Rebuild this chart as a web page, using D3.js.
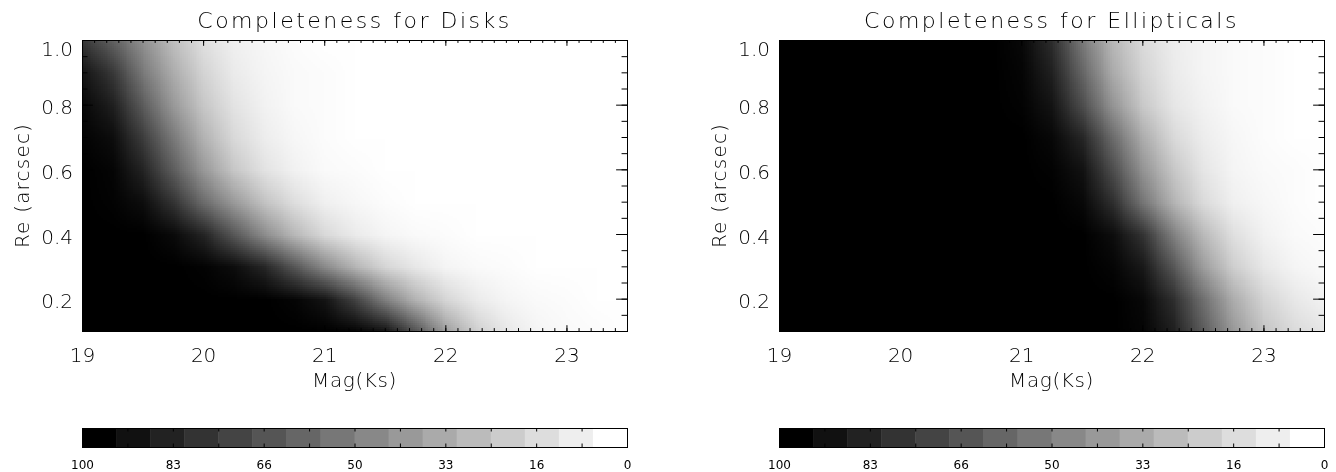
<!DOCTYPE html>
<html><head><meta charset="utf-8">
<script src="https://cdn.jsdelivr.net/npm/d3@7"></script>
<style>
html,body{margin:0;padding:0;background:#fff;}
svg{display:block;will-change:transform;}
text{font-family:"DejaVu Sans",sans-serif;font-weight:200;fill:#000;}
</style></head><body>
<svg id="chart" width="1336" height="472"></svg>
<script>
// ---- data ----
const mags = [19, 19.25, 19.5, 19.75, 20, 20.25, 20.5, 20.75, 21, 21.25, 21.5, 21.75, 22, 22.25, 22.5, 22.75, 23, 23.25, 23.5];
const reValues = [1.0, 0.9, 0.8, 0.7, 0.6, 0.5, 0.4, 0.3, 0.2, 0.1];

// completeness (%) per Re row (top to bottom) and magnitude column
const diskCompleteness = [
  [78, 62, 43, 25, 12, 6, 3, 1, 0, 0, 0, 0, 0, 0, 0, 0, 0, 0, 0],
  [92, 78, 52, 32, 17, 8, 4, 2, 1, 0, 0, 0, 0, 0, 0, 0, 0, 0, 0],
  [97, 88, 64, 40, 22, 11, 5, 2, 1, 0, 0, 0, 0, 0, 0, 0, 0, 0, 0],
  [99, 95, 76, 52, 30, 15, 7, 3, 1, 0, 0, 0, 0, 0, 0, 0, 0, 0, 0],
  [100, 98, 86, 63, 40, 22, 11, 5, 2, 1, 0, 0, 0, 0, 0, 0, 0, 0, 0],
  [100, 99, 95, 80, 58, 40, 24, 13, 6, 3, 1, 0, 0, 0, 0, 0, 0, 0, 0],
  [100, 100, 100, 96, 86, 66, 45, 28, 15, 8, 4, 2, 1, 0, 0, 0, 0, 0, 0],
  [100, 100, 100, 100, 99, 95, 85, 66, 46, 29, 16, 9, 4, 2, 1, 0, 0, 0, 0],
  [100, 100, 100, 100, 100, 100, 100, 98, 92, 74, 50, 30, 16, 8, 4, 2, 1, 0, 0],
  [100, 100, 100, 100, 100, 100, 100, 100, 100, 99, 93, 68, 38, 19, 9, 4, 2, 1, 0]
];
const ellipticalCompleteness = [
  [100, 100, 100, 100, 100, 100, 100, 100, 97, 82, 52, 28, 14, 7, 4, 2, 1, 0, 0],
  [100, 100, 100, 100, 100, 100, 100, 100, 98, 87, 60, 33, 17, 8, 4, 2, 1, 0, 0],
  [100, 100, 100, 100, 100, 100, 100, 100, 99, 92, 70, 42, 21, 10, 5, 2, 1, 0, 0],
  [100, 100, 100, 100, 100, 100, 100, 100, 100, 97, 85, 58, 32, 15, 7, 3, 1, 0, 0],
  [100, 100, 100, 100, 100, 100, 100, 100, 100, 99, 93, 70, 42, 22, 10, 4, 2, 1, 0],
  [100, 100, 100, 100, 100, 100, 100, 100, 100, 100, 97, 82, 54, 30, 14, 6, 3, 1, 0],
  [100, 100, 100, 100, 100, 100, 100, 100, 100, 100, 100, 95, 80, 50, 27, 12, 5, 2, 1],
  [100, 100, 100, 100, 100, 100, 100, 100, 100, 100, 100, 98, 90, 66, 38, 19, 9, 4, 2],
  [100, 100, 100, 100, 100, 100, 100, 100, 100, 100, 100, 100, 97, 82, 56, 32, 17, 9, 5],
  [100, 100, 100, 100, 100, 100, 100, 100, 100, 100, 100, 100, 98, 88, 64, 40, 23, 14, 10]
];

const titles = ["Completeness for Disks", "Completeness for Ellipticals"];
const xTickValues = [19, 20, 21, 22, 23];
const yTickValues = [0.2, 0.4, 0.6, 0.8, 1.0];
const xLabel = "Mag(Ks)";
const yLabel = "Re (arcsec)";
const colorbarGrays = [0, 17, 34, 51, 68, 85, 102, 119, 136, 153, 170, 187, 204, 221, 238, 255];
const colorbarTickValues = [100, 83.33, 66.67, 50, 33.33, 16.67, 0];
const colorbarLabels = ["100", "83", "66", "50", "33", "16", "0"];

// ---- layout ----
const svg = d3.select("#chart");
const W = 545, plotTop = 40, plotBottom = 331;
const lefts = [82, 779];
const cbTop = 428, cbH = 19;
const grids = [diskCompleteness, ellipticalCompleteness];
const gray = d3.scaleLinear().domain([0, 100]).range([255, 0]);

lefts.forEach((left, i) => {
  const x = d3.scaleLinear().domain([19, 23.5]).range([left, left + W]);
  const y = d3.scaleLinear().domain([0.1, 1.0]).range([plotBottom, plotTop]);
  const g = svg.append("g");

  const clipId = "clip" + i;
  svg.append("clipPath").attr("id", clipId).append("rect")
    .attr("x", x(19)).attr("y", y(1.0)).attr("width", x(23.5) - x(19)).attr("height", y(0.1) - y(1.0));

  const grid = grids[i];
  const cols = mags.length, rows = reValues.length;
  const canvas = document.createElement("canvas");
  canvas.width = cols; canvas.height = rows;
  const ctx = canvas.getContext("2d");
  const img = ctx.createImageData(cols, rows);
  grid.forEach((row, r) => row.forEach((v, c) => {
    const k = (r * cols + c) * 4;
    const gv = Math.round(gray(v));
    img.data[k] = img.data[k + 1] = img.data[k + 2] = gv;
    img.data[k + 3] = 255;
  }));
  ctx.putImageData(img, 0, 0);
  const dm = mags[1] - mags[0], dr = reValues[0] - reValues[1];
  const x0 = x(mags[0] - dm / 2), x1 = x(mags[cols - 1] + dm / 2);
  const y0 = y(reValues[0] + dr / 2), y1 = y(reValues[rows - 1] - dr / 2);
  g.append("g").attr("clip-path", `url(#${clipId})`)
    .append("image")
    .attr("href", canvas.toDataURL())
    .attr("preserveAspectRatio", "none")
    .attr("x", x0).attr("y", y0).attr("width", x1 - x0).attr("height", y1 - y0)
    .style("image-rendering", "auto");

  const xMajLen = 0.02 * (plotBottom - plotTop), yMajLen = 0.02 * W;
  const xMinor = d3.range(190, 235.5, 1).map(v => v / 10);
  const yMinor = d3.range(2, 20.5, 1).map(v => v / 20);

  function styleAxis(sel) {
    sel.select(".domain").remove();
    sel.selectAll("line").attr("stroke", "#000");
    sel.selectAll("text").style("font-size", "20px");
  }
  g.append("g").attr("transform", `translate(0,${plotBottom})`)
    .call(d3.axisBottom(x).tickValues(xTickValues).tickFormat(d3.format("d")).tickSize(-xMajLen).tickPadding(17))
    .call(styleAxis);
  g.append("g").attr("transform", `translate(0,${plotBottom})`)
    .call(d3.axisBottom(x).tickValues(xMinor).tickFormat("").tickSize(-xMajLen / 2))
    .call(styleAxis);
  g.append("g").attr("transform", `translate(0,${plotTop})`)
    .call(d3.axisTop(x).tickValues(xTickValues).tickFormat("").tickSize(-xMajLen))
    .call(styleAxis);
  g.append("g").attr("transform", `translate(0,${plotTop})`)
    .call(d3.axisTop(x).tickValues(xMinor).tickFormat("").tickSize(-xMajLen / 2))
    .call(styleAxis);
  g.append("g").attr("transform", `translate(${left},0)`)
    .call(d3.axisLeft(y).tickValues(yTickValues).tickFormat(d3.format(".1f")).tickSize(-yMajLen).tickPadding(9))
    .call(styleAxis)
    .call(s => s.selectAll("text").attr("y", d => Math.max(2, plotTop + 8 - y(d))).attr("dy", "0.36em"));
  g.append("g").attr("transform", `translate(${left},0)`)
    .call(d3.axisLeft(y).tickValues(yMinor).tickFormat("").tickSize(-yMajLen / 2))
    .call(styleAxis);
  g.append("g").attr("transform", `translate(${left + W},0)`)
    .call(d3.axisRight(y).tickValues(yTickValues).tickFormat("").tickSize(-yMajLen))
    .call(styleAxis);
  g.append("g").attr("transform", `translate(${left + W},0)`)
    .call(d3.axisRight(y).tickValues(yMinor).tickFormat("").tickSize(-yMajLen / 2))
    .call(styleAxis);

  g.append("rect").attr("x", left + 0.5).attr("y", plotTop + 0.5)
    .attr("width", W).attr("height", plotBottom - plotTop)
    .attr("fill", "none").attr("stroke", "#000").attr("stroke-width", 1);

  g.append("text").attr("x", left + W / 2).attr("y", 28)
    .attr("text-anchor", "middle").style("font-size", "22px").style("letter-spacing", "2.5px")
    .text(titles[i]);
  g.append("text").attr("x", left + W / 2).attr("y", 387)
    .attr("text-anchor", "middle").style("font-size", "20px").style("letter-spacing", "0.6px")
    .text(xLabel);
  g.append("text").attr("transform", `translate(${left - 53},${(plotTop + plotBottom) / 2}) rotate(-90)`)
    .attr("text-anchor", "middle").style("font-size", "20px").style("letter-spacing", "1.2px")
    .text(yLabel);

  const cb = d3.scaleLinear().domain([100, 0]).range([left, left + W]);
  const step = 100 / colorbarGrays.length;
  g.append("g").selectAll("rect").data(colorbarGrays).join("rect")
    .attr("x", (d, k) => cb(100 - k * step))
    .attr("width", (d, k) => cb(100 - (k + 1) * step) - cb(100 - k * step) + 0.5)
    .attr("y", cbTop).attr("height", cbH)
    .attr("fill", d => d3.rgb(d, d, d));
  const cbTicks = d3.range(0, 13).map(k => 100 - k * 100 / 12);
  g.append("g").attr("transform", `translate(0,${cbTop})`)
    .call(d3.axisTop(cb).tickValues(cbTicks).tickFormat("").tickSize(-3.5))
    .call(styleAxis);
  g.append("g").attr("transform", `translate(0,${cbTop + cbH})`)
    .call(d3.axisBottom(cb).tickValues(cbTicks).tickFormat("").tickSize(-3.5))
    .call(styleAxis);
  g.append("rect").attr("x", left + 0.5).attr("y", cbTop + 0.5).attr("width", W).attr("height", cbH)
    .attr("fill", "none").attr("stroke", "#000");
  g.append("g").attr("transform", `translate(0,${cbTop + cbH})`)
    .call(d3.axisBottom(cb).tickValues(colorbarTickValues).tickFormat((d, k) => colorbarLabels[k]).tickSize(0).tickPadding(13))
    .call(styleAxis)
    .call(s => s.selectAll("text").style("font-size", "12px").style("font-weight", "400"));
});
</script>
</body></html>
